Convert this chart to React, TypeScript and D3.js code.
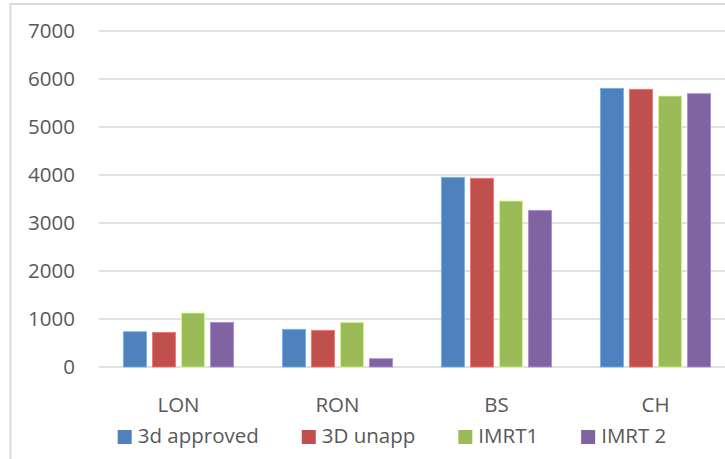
import React, { useEffect, useRef } from "react";
import * as d3 from "d3";

const categories = ["LON", "RON", "BS", "CH"];
const seriesNames = ["3d approved", "3D unapp", "IMRT1", "IMRT 2"];
const seriesColors = ["#4F81BD", "#C0504D", "#9BBB59", "#8064A2"];
const approved3d = [735, 785, 3952, 5806];
const unapp3d = [722, 764, 3931, 5785];
const imrt1 = [1125, 930, 3458, 5646];
const imrt2 = [930, 173, 3264, 5694];
const yTicks = [0, 1000, 2000, 3000, 4000, 5000, 6000, 7000];

const seriesValues = [approved3d, unapp3d, imrt1, imrt2];

const W = 725;
const H = 459;
const FONT = "'Open Sans', sans-serif";
const FONT_SIZE = 20.5;
const TEXT = "#595959";
const GRID = "#d9d9d9";

export default function App() {
  const ref = useRef<SVGSVGElement>(null);

  useEffect(() => {
    const svg = d3.select(ref.current);
    svg.selectAll("*").remove();

    // chart frame (extends past the right and bottom edges)
    svg
      .append("rect")
      .attr("x", 10.5)
      .attr("y", 4)
      .attr("width", 800)
      .attr("height", 500)
      .attr("fill", "#fff")
      .attr("stroke", GRID)
      .attr("stroke-width", 2);

    const x0 = d3.scaleBand<string>().domain(categories).range([99, 735]).padding(0);
    const x1 = d3
      .scaleBand<string>()
      .domain(seriesNames)
      .range([0, x0.bandwidth()])
      .paddingInner(0.2)
      .paddingOuter(0.84);
    const y = d3.scaleLinear().domain([0, 7000]).range([367, 31]);

    // gridlines
    svg
      .append("g")
      .selectAll("line")
      .data(yTicks)
      .join("line")
      .attr("x1", 99)
      .attr("x2", 735)
      .attr("y1", (d) => y(d))
      .attr("y2", (d) => y(d))
      .attr("stroke", GRID)
      .attr("stroke-width", 1.5);

    // y tick labels
    svg
      .append("g")
      .selectAll("text")
      .data(yTicks)
      .join("text")
      .attr("x", 75)
      .attr("y", (d) => y(d))
      .attr("dy", "0.36em")
      .attr("text-anchor", "end")
      .attr("font-family", FONT)
      .attr("font-size", FONT_SIZE)
      .attr("fill", TEXT)
      .text((d) => String(d));

    // bars
    const groups = svg
      .append("g")
      .selectAll("g")
      .data(categories)
      .join("g")
      .attr("transform", (c) => `translate(${x0(c)},0)`);

    groups
      .selectAll("rect")
      .data((c, ci) => seriesNames.map((s, si) => ({ s, si, v: seriesValues[si][ci] })))
      .join("rect")
      .attr("x", (d) => x1(d.s)!)
      .attr("width", x1.bandwidth())
      .attr("y", (d) => y(d.v))
      .attr("height", (d) => y(0) - y(d.v))
      .attr("fill", (d) => seriesColors[d.si])
      .attr("stroke", (d) => d3.color(seriesColors[d.si])!.brighter(0.9).formatHex())
      .attr("stroke-width", 0.8);

    // category labels
    svg
      .append("g")
      .selectAll("text")
      .data(categories)
      .join("text")
      .attr("x", (c) => x0(c)! + x0.bandwidth() / 2)
      .attr("y", 412)
      .attr("text-anchor", "middle")
      .attr("font-family", FONT)
      .attr("font-size", FONT_SIZE)
      .attr("fill", TEXT)
      .text((c) => c);

    // legend, laid out from measured text widths and centred
    const legend = svg.append("g");
    const items = seriesNames.map((name, i) => {
      const g = legend.append("g");
      g.append("rect")
        .attr("x", 0)
        .attr("y", 430)
        .attr("width", 14)
        .attr("height", 14)
        .attr("fill", seriesColors[i]);
      const t = g
        .append("text")
        .attr("x", 20)
        .attr("y", 443)
        .attr("font-family", FONT)
        .attr("font-size", FONT_SIZE)
        .attr("fill", TEXT)
        .text(name);
      const w = (t.node() as SVGTextElement).getComputedTextLength();
      return { g, w: 20 + w };
    });
    const gap = 43;
    const total = d3.sum(items, (d) => d.w) + gap * (items.length - 1);
    let cx = 392 - total / 2;
    items.forEach((it) => {
      it.g.attr("transform", `translate(${cx},0)`);
      cx += it.w + gap;
    });
  }, []);

  return (
    <svg
      ref={ref}
      width={W}
      height={H}
      style={{ position: "absolute", left: 0, top: 0, background: "#fff" }}
    />
  );
}
